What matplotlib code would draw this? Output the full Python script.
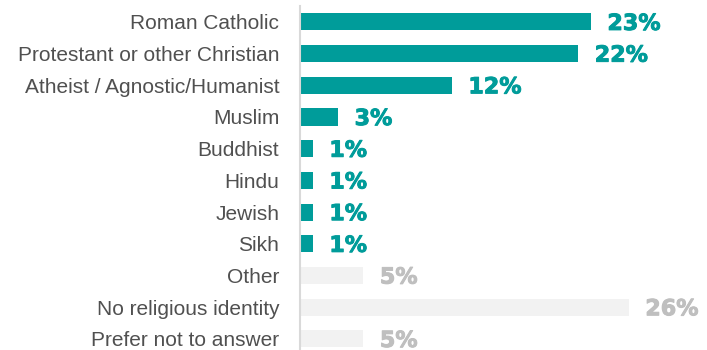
import matplotlib.pyplot as plt
import matplotlib.patheffects as pe

categories = [
    "Roman Catholic",
    "Protestant or other Christian",
    "Atheist / Agnostic/Humanist",
    "Muslim",
    "Buddhist",
    "Hindu",
    "Jewish",
    "Sikh",
    "Other",
    "No religious identity",
    "Prefer not to answer",
]
shares = [23, 22, 12, 3, 1, 1, 1, 1, 5, 26, 5]
highlighted = [True] * 8 + [False] * 3

TEAL = "#009c9a"
BAR_GREY = "#f2f2f2"
TEXT_GREY = "#bfbfbf"


def main() -> None:
    fig = plt.figure(figsize=(7.07, 3.5), dpi=100)
    ax = fig.add_axes([300 / 707, 0, 407 / 707, 344 / 350])

    bar_colors = [TEAL if h else BAR_GREY for h in highlighted]
    label_colors = [TEAL if h else TEXT_GREY for h in highlighted]
    ypos = list(range(len(categories)))

    ax.barh(ypos, shares, height=0.54, color=bar_colors)
    for y, v, c in zip(ypos, shares, label_colors):
        ax.annotate(f"{v}%", (v, y), xytext=(12, -1.5), textcoords="offset points",
                    va="center", ha="left", fontsize=16, fontweight="bold",
                    color=c, family="DejaVu Sans",
                    path_effects=[pe.withStroke(linewidth=0.7, foreground=c)])

    ax.set_xlim(0, 32.2)
    ax.set_ylim(10.35, -0.5)
    ax.set_yticks(ypos)
    ax.set_yticklabels(categories, fontsize=15, color="#505050",
                       family="Liberation Sans")
    ax.tick_params(axis="y", length=0, pad=15)
    ax.set_xticks([])
    for side in ["top", "right", "bottom"]:
        ax.spines[side].set_visible(False)
    ax.spines["left"].set_color("#d9d9d9")
    ax.spines["left"].set_linewidth(1.5)

    fig.savefig("out.png", dpi=100)
    plt.close(fig)


if __name__ == "__main__":
    main()
